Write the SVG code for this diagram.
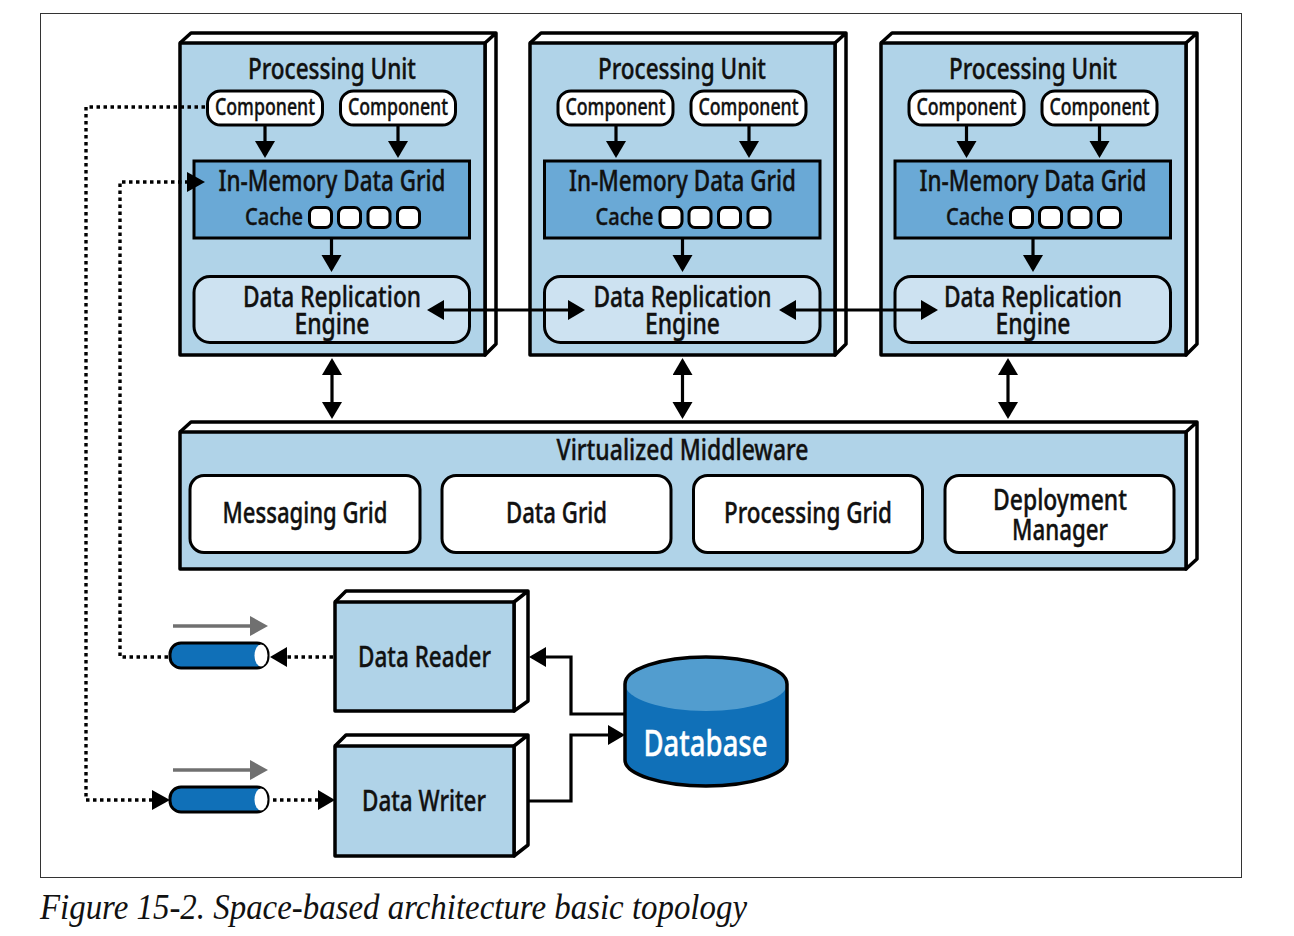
<svg xmlns="http://www.w3.org/2000/svg" width="1294" height="936" viewBox="0 0 1294 936">
<style>
text{font-family:"Noto Sans","Open Sans","DejaVu Sans",sans-serif;fill:#111;stroke:#111;stroke-width:.4;text-anchor:middle;font-size:29px;font-weight:500}
.s{font-size:24px}
.panel{fill:#b0d3e8;stroke:#000;stroke-width:3.5;stroke-linejoin:round}
.side{fill:#fff;stroke:#000;stroke-width:3.5;stroke-linejoin:round}
.comp{fill:#fff;stroke:#000;stroke-width:3}
.grid{fill:#6aa9d6;stroke:#000;stroke-width:3}
.eng{fill:#cde2f1;stroke:#000;stroke-width:3}
.sq{fill:#fff;stroke:#000;stroke-width:3}
.box{fill:#fff;stroke:#000;stroke-width:3}
.ln{fill:none;stroke:#000;stroke-width:3.2;marker-end:url(#a)}
.dbl{marker-start:url(#a)}
.dot{fill:none;stroke:#000;stroke-width:3.4;stroke-dasharray:3.5 3.5}
.grey{stroke:#707070;stroke-width:3.5;fill:none;marker-end:url(#g)}
.pipe{fill:#1070b8;stroke:#000;stroke-width:3}
</style>
<defs>
<marker id="a" markerUnits="userSpaceOnUse" markerWidth="18" markerHeight="22" refX="14" refY="10" orient="auto-start-reverse" viewBox="0 0 18 22"><path d="M0,0L17,10L0,20z" fill="#000"/></marker>
<marker id="g" markerUnits="userSpaceOnUse" markerWidth="18" markerHeight="22" refX="0" refY="10" orient="auto" viewBox="0 0 18 22"><path d="M0,0L18,10L0,20z" fill="#707070"/></marker>
</defs>
<rect id="frame" x="40.5" y="13.5" width="1201" height="864" fill="#fff" stroke="#333" stroke-width="1"/>

<g id="unit1">
<path class="side" d="M180,43L191,33H496V344L485,355V43L496,33"/>
<rect class="panel" x="180" y="43" width="305" height="312"/>
<text x="332" y="79" textLength="168" lengthAdjust="spacingAndGlyphs">Processing Unit</text>
<rect class="comp" x="207.500" y="91" width="115" height="34" rx="13"/><text class="s" x="265" y="115" textLength="100" lengthAdjust="spacingAndGlyphs">Component</text>
<rect class="comp" x="340.500" y="91" width="115" height="34" rx="13"/><text class="s" x="398" y="115" textLength="100" lengthAdjust="spacingAndGlyphs">Component</text>
<rect class="grid" x="194" y="161" width="275.500" height="77"/>
<text x="332" y="191" textLength="227" lengthAdjust="spacingAndGlyphs">In-Memory Data Grid</text>
<text class="s" x="274" y="225" textLength="58" lengthAdjust="spacingAndGlyphs">Cache</text>
<rect class="sq" x="309.500" y="207.500" width="22" height="20" rx="6"/><rect class="sq" x="338.500" y="207.500" width="22" height="20" rx="6"/><rect class="sq" x="368" y="207.500" width="22" height="20" rx="6"/><rect class="sq" x="397.500" y="207.500" width="22" height="20" rx="6"/>
<rect class="eng" x="194" y="276.500" width="275.500" height="66" rx="16"/>
<text><tspan x="332" y="307" textLength="178" lengthAdjust="spacingAndGlyphs">Data Replication</tspan><tspan x="332" y="334" textLength="75" lengthAdjust="spacingAndGlyphs">Engine</tspan></text>
</g>

<g id="unit2">
<path class="side" d="M530,43L541,33H846V344L835,355V43L846,33"/>
<rect class="panel" x="530" y="43" width="305" height="312"/>
<text x="682" y="79" textLength="168" lengthAdjust="spacingAndGlyphs">Processing Unit</text>
<rect class="comp" x="558" y="91" width="115" height="34" rx="13"/><text class="s" x="615.500" y="115" textLength="100" lengthAdjust="spacingAndGlyphs">Component</text>
<rect class="comp" x="691" y="91" width="115" height="34" rx="13"/><text class="s" x="748.500" y="115" textLength="100" lengthAdjust="spacingAndGlyphs">Component</text>
<rect class="grid" x="544.500" y="161" width="275.500" height="77"/>
<text x="682.500" y="191" textLength="227" lengthAdjust="spacingAndGlyphs">In-Memory Data Grid</text>
<text class="s" x="624.500" y="225" textLength="58" lengthAdjust="spacingAndGlyphs">Cache</text>
<rect class="sq" x="660" y="207.500" width="22" height="20" rx="6"/><rect class="sq" x="689" y="207.500" width="22" height="20" rx="6"/><rect class="sq" x="718.500" y="207.500" width="22" height="20" rx="6"/><rect class="sq" x="748" y="207.500" width="22" height="20" rx="6"/>
<rect class="eng" x="544.500" y="276.500" width="275.500" height="66" rx="16"/>
<text><tspan x="682.500" y="307" textLength="178" lengthAdjust="spacingAndGlyphs">Data Replication</tspan><tspan x="682.500" y="334" textLength="75" lengthAdjust="spacingAndGlyphs">Engine</tspan></text>
</g>

<g id="unit3">
<path class="side" d="M881,43L892,33H1197V344L1186,355V43L1197,33"/>
<rect class="panel" x="881" y="43" width="305" height="312"/>
<text x="1033" y="79" textLength="168" lengthAdjust="spacingAndGlyphs">Processing Unit</text>
<rect class="comp" x="909" y="91" width="115" height="34" rx="13"/><text class="s" x="966.500" y="115" textLength="100" lengthAdjust="spacingAndGlyphs">Component</text>
<rect class="comp" x="1042" y="91" width="115" height="34" rx="13"/><text class="s" x="1099.500" y="115" textLength="100" lengthAdjust="spacingAndGlyphs">Component</text>
<rect class="grid" x="895" y="161" width="275.500" height="77"/>
<text x="1033" y="191" textLength="227" lengthAdjust="spacingAndGlyphs">In-Memory Data Grid</text>
<text class="s" x="975" y="225" textLength="58" lengthAdjust="spacingAndGlyphs">Cache</text>
<rect class="sq" x="1010.500" y="207.500" width="22" height="20" rx="6"/><rect class="sq" x="1039.500" y="207.500" width="22" height="20" rx="6"/><rect class="sq" x="1069" y="207.500" width="22" height="20" rx="6"/><rect class="sq" x="1098.500" y="207.500" width="22" height="20" rx="6"/>
<rect class="eng" x="895" y="276.500" width="275.500" height="66" rx="16"/>
<text><tspan x="1033" y="307" textLength="178" lengthAdjust="spacingAndGlyphs">Data Replication</tspan><tspan x="1033" y="334" textLength="75" lengthAdjust="spacingAndGlyphs">Engine</tspan></text>
</g>

<g id="middleware">
<path class="side" d="M180,432L191,422H1197V559L1186,569V432L1197,422"/>
<rect class="panel" x="180" y="432" width="1006" height="137"/>
<text x="682.500" y="460" textLength="252" lengthAdjust="spacingAndGlyphs">Virtualized Middleware</text>
<rect class="box" x="190" y="475.500" width="230" height="77" rx="14"/><text x="305" y="523" textLength="165" lengthAdjust="spacingAndGlyphs">Messaging Grid</text>
<rect class="box" x="442" y="475.500" width="229" height="77" rx="14"/><text x="556.500" y="523" textLength="101" lengthAdjust="spacingAndGlyphs">Data Grid</text>
<rect class="box" x="693.500" y="475.500" width="229" height="77" rx="14"/><text x="808" y="523" textLength="168" lengthAdjust="spacingAndGlyphs">Processing Grid</text>
<rect class="box" x="945" y="475.500" width="229" height="77" rx="14"/>
<text><tspan x="1060" y="510" textLength="134" lengthAdjust="spacingAndGlyphs">Deployment</tspan><tspan x="1060" y="540" textLength="96" lengthAdjust="spacingAndGlyphs">Manager</tspan></text>
</g>

<g id="reader">
<path class="side" d="M335,602L346,591H528V701L514,711V602L528,591"/>
<rect class="panel" x="335" y="602" width="179" height="109"/>
<text x="424.500" y="667" textLength="133" lengthAdjust="spacingAndGlyphs">Data Reader</text>
</g>
<g id="writer">
<path class="side" d="M335,746L346,735H528V845L514,856V746L528,735"/>
<rect class="panel" x="335" y="746" width="179" height="110"/>
<text x="424" y="811" textLength="124" lengthAdjust="spacingAndGlyphs">Data Writer</text>
</g>

<g id="database">
<path d="M625,684A81,27 0 0 1 787,684V760A81,26 0 0 1 625,760z" fill="#1070b8"/>
<path d="M625,684A81,27 0 0 1 787,684A81,27 0 0 1 625,684z" fill="#529dcf"/>
<path d="M625,684A81,27 0 0 1 787,684V760A81,26 0 0 1 625,760z" fill="none" stroke="#000" stroke-width="3.5"/>
<text x="705.500" y="756" textLength="124" lengthAdjust="spacingAndGlyphs" style="fill:#fff;stroke:#fff;font-size:37px">Database</text>
</g>

<g id="queue-read">
<path class="grey" d="M173,626H250"/>
<rect class="pipe" x="170" y="643" width="98" height="25" rx="11"/>
<ellipse cx="261" cy="655.500" rx="6.500" ry="11" fill="#fff"/>
</g>
<g id="queue-write">
<path class="grey" d="M173,770H250"/>
<rect class="pipe" x="170" y="787" width="98" height="25" rx="11"/>
<ellipse cx="261" cy="799.500" rx="6.500" ry="11" fill="#fff"/>
</g>

<g id="connectors">
<path class="ln" d="M265,125V155"/><path class="ln" d="M398,125V155"/><path class="ln" d="M331.500,238V269"/>
<path class="ln" d="M616,125V155"/><path class="ln" d="M749,125V155"/><path class="ln" d="M682.500,238V269"/>
<path class="ln" d="M966.500,125V155"/><path class="ln" d="M1099.500,125V155"/><path class="ln" d="M1033,238V269"/>
<path class="ln dbl" d="M430,310H582"/><path class="ln dbl" d="M782,310H935"/>
<path class="ln dbl" d="M332,361V416"/><path class="ln dbl" d="M682.500,361V416"/><path class="ln dbl" d="M1008,361V416"/>
<path class="ln" d="M625,714H571V657H532"/>
<path class="ln" d="M529,801H571V735H622"/>
<path class="dot" d="M205,107H86V800H155"/><path d="M152,790L170,800L152,810z" fill="#000"/>
<path class="dot" d="M168,657H120V182H190"/><path d="M187,172L205,182L187,192z" fill="#000"/>
<path class="dot" d="M333,657H285"/><path d="M287,647L270,657L287,667z" fill="#000"/>
<path class="dot" d="M273,800H320"/><path d="M318,790L335,800L318,810z" fill="#000"/>
</g>
<text id="caption" x="393.500" y="919" textLength="707" lengthAdjust="spacingAndGlyphs" style="font-family:'Liberation Serif',serif;font-style:italic;font-weight:400;stroke:none;font-size:35px">Figure 15-2. Space-based architecture basic topology</text>
</svg>
